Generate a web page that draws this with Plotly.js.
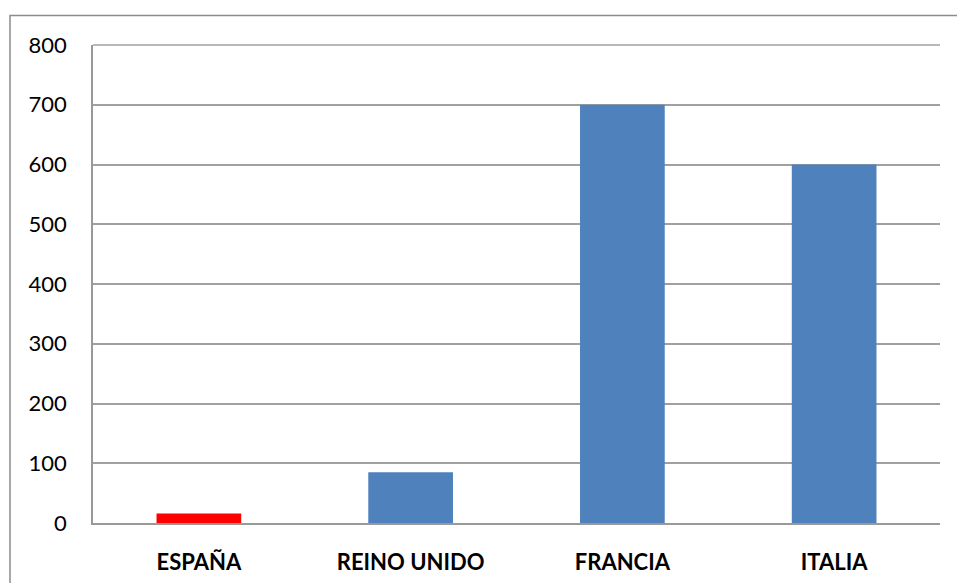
<!DOCTYPE html>
<html>
<head>
<meta charset="utf-8">
<script src="https://cdn.plot.ly/plotly-3.0.1.min.js"></script>
<style>
html,body{margin:0;padding:0;background:#fff;}
#chart{width:957px;height:583px;}
</style>
</head>
<body>
<div id="chart"></div>
<script>
var categories = ["ESPAÑA", "REINO UNIDO", "FRANCIA", "ITALIA"];
var values = [16, 85, 700, 600];
var barColors = ["#FF0000", "#4F81BD", "#4F81BD", "#4F81BD"];
var yTicks = [0, 100, 200, 300, 400, 500, 600, 700, 800];

var trace = {
  type: "bar",
  x: categories,
  y: values,
  marker: {color: barColors},
  width: 0.4,
  hoverinfo: "x+y"
};

var layout = {
  width: 957,
  height: 583,
  margin: {l: 93, r: 16.5, t: 44.5, b: 59.7, pad: 0},
  paper_bgcolor: "#ffffff",
  plot_bgcolor: "#ffffff",
  showlegend: false,
  bargap: 0.6,
  font: {family: "Lato, 'Liberation Sans', sans-serif", color: "#000000"},
  xaxis: {
    type: "category",
    showgrid: false,
    showline: true,
    linecolor: "#999999",
    linewidth: 1.5,
    ticks: "",
    tickfont: {size: 22, weight: "bold", color: "#000"},
    ticklabelstandoff: 19,
    zeroline: false,
    fixedrange: true
  },
  yaxis: {
    range: [0, 800],
    tickvals: yTicks,
    ticktext: yTicks.map(String),
    showgrid: true,
    gridcolor: "#a0a0a0",
    gridwidth: 1.5,
    showline: true,
    linecolor: "#999999",
    linewidth: 1.5,
    zeroline: false,
    ticks: "",
    tickfont: {size: 22, color: "#000"},
    ticklabelstandoff: 20,
    fixedrange: true
  },
  shapes: [
    {
      type: "path",
      xref: "paper", yref: "paper",
      path: "M -0.098,-0.5 L -0.098,1.0616 L 1.2,1.0616",
      line: {color: "#8c8c8c", width: 1.5},
      layer: "above"
    },
    {
      type: "line",
      xref: "paper", yref: "paper",
      x0: 0, x1: 1, y0: 1, y1: 1,
      line: {color: "#a0a0a0", width: 1.5}
    }
  ]
};

Plotly.newPlot("chart", [trace], layout, {displayModeBar: false, staticPlot: false});
</script>
</body>
</html>
